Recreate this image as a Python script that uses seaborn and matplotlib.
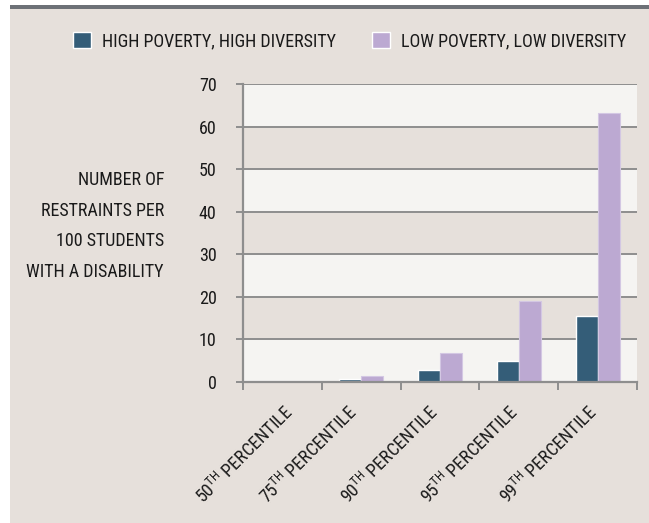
import numpy as np
import pandas as pd
import matplotlib
matplotlib.use("Agg")
import matplotlib.pyplot as plt
import matplotlib.transforms as mtransforms
from matplotlib.patches import Rectangle
import seaborn as sns

# ---- data ----
categories = ["50", "75", "90", "95", "99"]
series_names = ["HIGH POVERTY, HIGH DIVERSITY", "LOW POVERTY, LOW DIVERSITY"]
high_poverty = [0.0, 0.6, 2.9, 4.9, 15.5]
low_poverty = [0.0, 1.3, 6.8, 19.1, 63.1]
y_ticks = [0, 10, 20, 30, 40, 50, 60, 70]
y_label = "NUMBER OF\nRESTRAINTS PER\n100 STUDENTS\nWITH A DISABILITY"

df = pd.DataFrame({
    "pct": categories * 2,
    "value": high_poverty + low_poverty,
    "group": [series_names[0]] * len(categories) + [series_names[1]] * len(categories),
})

# ---- style ----
DARK = "#345D78"
LIGHT = "#BCA9D2"
BEIGE = "#E6E0DB"
WHITE_BAND = "#F5F4F2"
GRID = "#8E8E8E"
TOPBAR = "#6D7177"
TEXT = "#1A1A1A"
FONT = "Roboto Condensed"

sns.set_theme(style="white")
plt.rcParams["font.family"] = [FONT, "DejaVu Sans"]
plt.rcParams["mathtext.fontset"] = "custom"
plt.rcParams["mathtext.rm"] = FONT
plt.rcParams["mathtext.it"] = FONT
plt.rcParams["mathtext.bf"] = FONT
FS = 13

W, H = 649, 523
fig = plt.figure(figsize=(W / 100, H / 100), dpi=100, facecolor="white")
# beige panel and top gray bar
fig.patches.append(Rectangle((10 / W, 0), 1 - 10 / W, 1 - 9 / H, transform=fig.transFigure,
                             facecolor=BEIGE, edgecolor="none", zorder=-10))
fig.patches.append(Rectangle((10 / W, 1 - 9 / H), 1 - 10 / W, 4 / H, transform=fig.transFigure,
                             facecolor=TOPBAR, edgecolor="none", zorder=-10))

left, right, bottom, top = 243 / W, 637 / W, 1 - 382 / H, 1 - 84 / H
ax = fig.add_axes([left, bottom, right - left, top - bottom])
ax.patch.set_visible(False)

sns.barplot(data=df, x="pct", y="value", hue="group", palette=[DARK, LIGHT],
            width=0.56, gap=0, saturation=1, ax=ax, zorder=3, legend=True)
# thin lighter outline on the lavender bars, as in the reference
for bar in ax.containers[1]:
    bar.set_edgecolor("#D3C7E3")
    bar.set_linewidth(0.8)

ax.set_ylim(0, 70)
ax.set_xlim(-0.5, len(categories) - 0.5)

# alternating bands: white on 0-10, 20-30, ...; the beige panel shows through elsewhere
for i, lo in enumerate(y_ticks[:-1]):
    if i % 2 == 0:
        ax.add_patch(Rectangle((0, lo), 1, 10, transform=ax.get_yaxis_transform(),
                               facecolor=WHITE_BAND, edgecolor="none", zorder=0.5))
for yv in y_ticks[1:]:
    ax.axhline(yv, color=GRID, lw=1.4, zorder=1)

for s in ["top", "right"]:
    ax.spines[s].set_visible(False)
for s in ["left", "bottom"]:
    ax.spines[s].set_color(GRID)
    ax.spines[s].set_linewidth(1.6)
ax.spines["bottom"].set_zorder(4)

ax.set_yticks(y_ticks)
ax.set_yticklabels([str(v) for v in y_ticks], fontsize=FS, color=TEXT)
ax.tick_params(axis="y", which="major", length=5, width=1.4, color=GRID, pad=14, left=True)

# x: labels at centers, tick marks at boundaries
ax.set_xticks(range(len(categories)))
ax.set_xticklabels([f"{c}$^{{\\mathregular{{TH}}}}$ PERCENTILE" for c in categories],
                   fontsize=FS, color=TEXT, rotation=45, ha="right", va="center",
                   rotation_mode="anchor")
ax.tick_params(axis="x", which="major", length=0, pad=20, bottom=True)
ax.set_xticks(np.arange(-0.5, len(categories), 1.0), minor=True)
ax.tick_params(axis="x", which="minor", length=6, width=1.4, color=GRID, bottom=True)
label_shift_px = [8, -7, -5, -4, -4]
for lbl, dx in zip(ax.get_xticklabels(), label_shift_px):
    lbl.set_transform(lbl.get_transform() + mtransforms.ScaledTranslation(dx / 100, 0, fig.dpi_scale_trans))

ax.set_xlabel("")
ax.set_ylabel("")

fig.text(164 / W, 1 - 226 / H, y_label, ha="right", va="center", fontsize=FS,
         color=TEXT, linespacing=1.92)

# legend
handles, labels = ax.get_legend_handles_labels()
ax.legend(handles, labels, loc="center left", bbox_to_anchor=(73 / W, 1 - 41 / H),
          bbox_transform=fig.transFigure, ncol=2, frameon=False, fontsize=FS,
          handlelength=1.0, handleheight=1.0, handletextpad=0.6, columnspacing=2.0,
          borderpad=0, borderaxespad=0, labelcolor=TEXT)

fig.savefig("out.png", dpi=100, facecolor=fig.get_facecolor())

# sanity check of the band colours
img = plt.imread("out.png")
beige_px = img[318, 300, :3]
white_px = img[360, 300, :3]
if abs(beige_px[0] - white_px[0]) < 0.03:
    raise SystemExit(f"band check failed: beige={beige_px} white={white_px}")
